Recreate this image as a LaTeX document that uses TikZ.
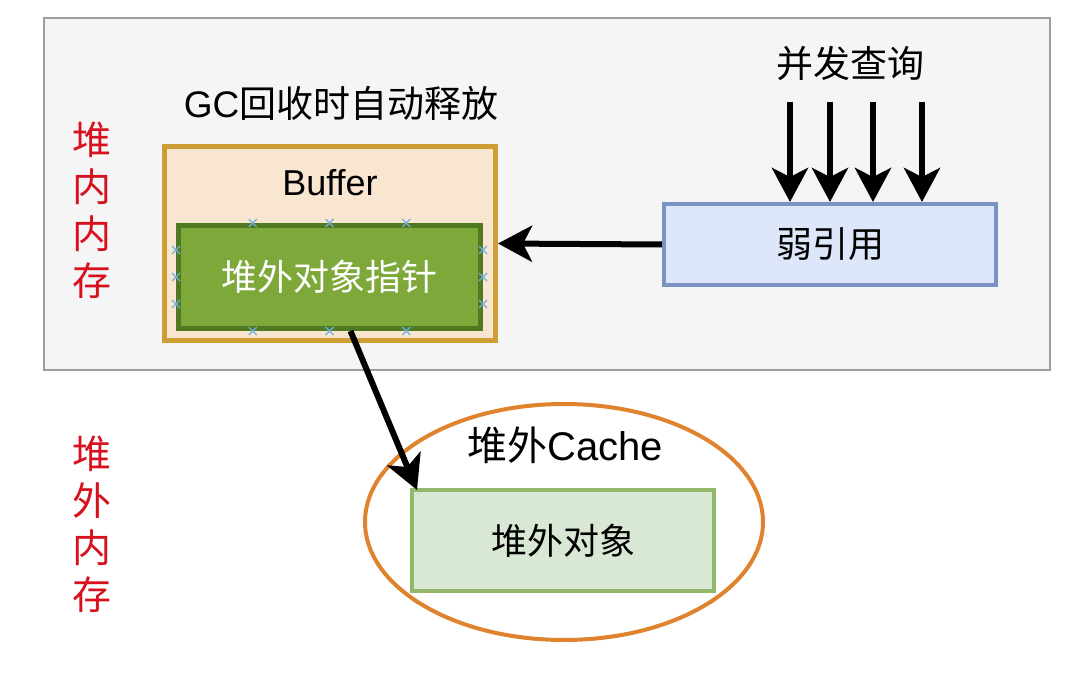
\documentclass[tikz,border=0pt]{standalone}
\usepackage{fontspec}
\setmainfont{Liberation Sans}
\newfontfamily\cjk{Noto Sans CJK SC}
\usepackage{tikz}
\usetikzlibrary{arrows.meta, positioning, shapes.geometric, calc}

\definecolor{heapgray}{HTML}{F5F5F5}
\definecolor{heapline}{HTML}{9E9E9E}
\definecolor{bufferfill}{HTML}{F8E6D1}
\definecolor{bufferline}{HTML}{CC9E33}
\definecolor{ptrfill}{HTML}{7EA83A}
\definecolor{ptrline}{HTML}{4F7A22}
\definecolor{weakfill}{HTML}{DDE7F9}
\definecolor{weakline}{HTML}{7A93C2}
\definecolor{objfill}{HTML}{D9E7D5}
\definecolor{objline}{HTML}{93B86A}
\definecolor{cacheline}{HTML}{E0832E}
\definecolor{memred}{HTML}{D7111D}
\definecolor{xblue}{HTML}{6BB0E0}

\begin{document}
\begin{tikzpicture}[x=1pt, y=-1pt,
    lbl/.style={font=\fontsize{36}{42}\selectfont, inner sep=0pt},
    box/.style={rectangle, inner sep=0pt},
    arr/.style={line width=6pt, -{Stealth[length=34pt, width=36pt, inset=9pt]}},
    xmark/.style={xblue, line width=1.3pt}]
    \useasboundingbox (0,0) rectangle (1080,682);

    % Heap area
    \node[box, fill=heapgray, draw=heapline, line width=1.2pt, minimum width=1006pt, minimum height=352pt] (heap) at (547,194) {};
    \node[memred, font={\fontsize{39}{47}\selectfont\cjk}, align=center, inner sep=0pt] (onheap) at (92,210) {堆\\内\\内\\存};
    \node[memred, font={\fontsize{39}{47}\selectfont\cjk}, align=center, inner sep=0pt] (offheap) at (92,524) {堆\\外\\内\\存};

    % Buffer
    \node[lbl, font={\fontsize{37}{42}\selectfont}] (gclbl) at (341,103) {GC{\cjk 回收时自动释放}};
    \node[box, fill=bufferfill, draw=bufferline, line width=5pt, minimum width=331pt, minimum height=194pt] (buffer) at (330,243.5) {};
    \node[lbl] (bufferlbl) at (330,183) {Buffer};
    \node[box, fill=ptrfill, draw=ptrline, line width=5pt, minimum width=302pt, minimum height=103pt, text=white, font={\fontsize{36}{42}\selectfont\cjk}] (ptr) at (329.5,277) {堆外对象指针};
    % connection points
    \foreach \t in {0.25,0.5,0.75} {
        \draw[xmark] ($(ptr.north west)!\t!(ptr.north east)$) +(-4,-4) -- +(4,4) +(-4,4) -- +(4,-4);
        \draw[xmark] ($(ptr.south west)!\t!(ptr.south east)$) +(-4,-4) -- +(4,4) +(-4,4) -- +(4,-4);
        \draw[xmark] ($(ptr.north west)!\t!(ptr.south west)$) +(-4,-4) -- +(4,4) +(-4,4) -- +(4,-4);
        \draw[xmark] ($(ptr.north east)!\t!(ptr.south east)$) +(-4,-4) -- +(4,4) +(-4,4) -- +(4,-4);
    }

    % Weak reference
    \node[lbl, font={\fontsize{37}{42}\selectfont\cjk}] (querylbl) at (850,63) {并发查询};
    \node[box, fill=weakfill, draw=weakline, line width=4pt, minimum width=332pt, minimum height=81pt, font={\fontsize{36}{42}\selectfont\cjk}] (weak) at (830,244.5) {弱引用};
    \foreach \qx in {790,830,873,922} {
        \coordinate (q\qx) at (\qx,102);
        \draw[arr] (q\qx) -- (q\qx |- weak.north);
    }
    \draw[arr] (weak.west) -- (buffer.east);

    % Off-heap cache
    \node[ellipse, draw=cacheline, line width=4pt, minimum width=398pt, minimum height=236pt, inner sep=0pt] (cache) at (564,522) {};
    \node[lbl, font={\fontsize{40}{48}\selectfont}] (cachelbl) at (565,445) {{\cjk 堆外}Cache};
    \node[box, fill=objfill, draw=objline, line width=4pt, minimum width=302pt, minimum height=101pt, font={\fontsize{36}{42}\selectfont\cjk}] (offobj) at (563,540.5) {堆外对象};

    \draw[arr] ([xshift=21pt]ptr.south) -- ([xshift=7pt, yshift=-2pt]offobj.north west);
\end{tikzpicture}
\end{document}
